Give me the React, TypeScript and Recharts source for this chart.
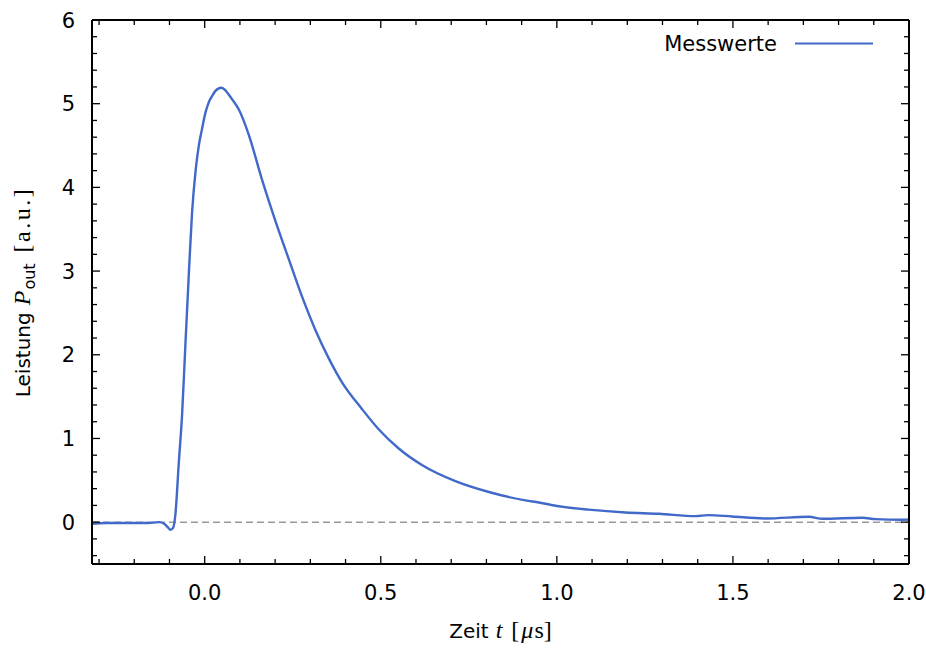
import { LineChart, Line, XAxis, YAxis, ReferenceLine, Legend } from "recharts";

// Zeit in µs und gemessene Ausgangsleistung (a.u.)
const timeUs = [
  -0.32, -0.28, -0.24, -0.2, -0.16, -0.13, -0.115, -0.105, -0.097, -0.09, -0.083,
  -0.074, -0.064, -0.055, -0.045, -0.036, -0.026, -0.017, -0.008, 0.002, 0.011,
  0.021, 0.03, 0.047, 0.059, 0.068, 0.08, 0.097, 0.125, 0.163, 0.2, 0.239, 0.276,
  0.314, 0.352, 0.39, 0.447, 0.494, 0.551, 0.618, 0.712, 0.807, 0.911, 0.949, 1.006,
  1.09, 1.195, 1.29, 1.394, 1.43, 1.497, 1.593, 1.716, 1.754, 1.868, 1.905, 1.98, 2.0,
];
const powerOut = [
  -0.02, -0.01, -0.01, -0.01, -0.01, 0, -0.02, -0.06, -0.09, -0.07, 0.1,
  0.68, 1.3, 2.1, 2.97, 3.69, 4.19, 4.49, 4.69, 4.89, 5.01,
  5.09, 5.15, 5.19, 5.16, 5.11, 5.04, 4.93, 4.63, 4.09, 3.61, 3.14, 2.7,
  2.3, 1.96, 1.67, 1.35, 1.11, 0.88, 0.68, 0.49, 0.36, 0.26, 0.235, 0.19,
  0.15, 0.116, 0.1, 0.072, 0.084, 0.068, 0.044, 0.064, 0.04, 0.053, 0.036, 0.028, 0.03,
];

const xMajorTicks = [0, 0.5, 1, 1.5, 2];
const xMinorTicks = [-0.3, -0.2, -0.1, 0.1, 0.2, 0.3, 0.4, 0.6, 0.7, 0.8, 0.9, 1.1, 1.2, 1.3, 1.4, 1.6, 1.7, 1.8, 1.9];
const yMajorTicks = [0, 1, 2, 3, 4, 5, 6];
const yMinorTicks = [-0.4, -0.2, 0.2, 0.4, 0.6, 0.8, 1.2, 1.4, 1.6, 1.8, 2.2, 2.4, 2.6, 2.8, 3.2, 3.4, 3.6, 3.8, 4.2, 4.4, 4.6, 4.8, 5.2, 5.4, 5.6, 5.8];

const data = timeUs.map((t, i) => ({ t, p: powerOut[i] }));
const xTicks = [...xMinorTicks, ...xMajorTicks].sort((a, b) => a - b);
const yTicks = [...yMinorTicks, ...yMajorTicks].sort((a, b) => a - b);

const SANS = "DejaVu Sans";
const SERIF = "Liberation Serif";
const LINE_COLOR = "#4169c9";

function BottomTick({ x, y, payload }: any) {
  const major = xMajorTicks.includes(payload.value);
  return (
    <g>
      <line x1={x} x2={x} y1={y} y2={y - (major ? 8 : 5)} stroke="#000" strokeWidth={1.3} />
      {major && (
        <text x={x} y={y + 36} textAnchor="middle" fontFamily={SANS} fontSize={21} fill="#000">
          {payload.value.toFixed(1)}
        </text>
      )}
    </g>
  );
}

function TopTick({ x, y, payload }: any) {
  const major = xMajorTicks.includes(payload.value);
  return <line x1={x} x2={x} y1={y} y2={y + (major ? 8 : 5)} stroke="#000" strokeWidth={1.3} />;
}

function LeftTick({ x, y, payload }: any) {
  const major = yMajorTicks.includes(payload.value);
  return (
    <g>
      <line x1={x} x2={x + (major ? 8 : 5)} y1={y} y2={y} stroke="#000" strokeWidth={1.3} />
      {major && (
        <text x={x - 17} y={y} dy="0.36em" textAnchor="end" fontFamily={SANS} fontSize={21} fill="#000">
          {payload.value}
        </text>
      )}
    </g>
  );
}

function RightTick({ x, y, payload }: any) {
  const major = yMajorTicks.includes(payload.value);
  return <line x1={x} x2={x - (major ? 8 : 5)} y1={y} y2={y} stroke="#000" strokeWidth={1.3} />;
}

function XTitle({ viewBox }: any) {
  const cx = viewBox.x + viewBox.width / 2;
  const by = viewBox.y + 74;
  return (
    <text x={cx} y={by} textAnchor="middle" fontSize={20} fill="#000" fontFamily={SANS}>
      <tspan>Zeit</tspan>
      <tspan dx={7} fontFamily={SERIF} fontStyle="italic" fontSize={24}>t</tspan>
      <tspan dx={9} fontFamily={SERIF} fontSize={24}>[</tspan>
      <tspan dx={2} fontFamily={SERIF} fontStyle="italic" fontSize={24}>μ</tspan>
      <tspan dx={1} fontFamily={SERIF} fontSize={24}>s]</tspan>
    </text>
  );
}

function YTitle({ viewBox }: any) {
  const bx = viewBox.x + 26;
  const cy = viewBox.y + viewBox.height / 2;
  return (
    <text
      x={bx}
      y={cy}
      transform={`rotate(-90, ${bx}, ${cy})`}
      textAnchor="middle"
      fontSize={20}
      fill="#000"
      fontFamily={SANS}
    >
      <tspan>Leistung</tspan>
      <tspan dx={7} fontFamily={SERIF} fontStyle="italic" fontSize={24}>P</tspan>
      <tspan dx={1} fontSize={16} dy={5}>out</tspan>
      <tspan dx={11} fontFamily={SERIF} fontSize={24} dy={-5} letterSpacing={2.5}>[a.u.]</tspan>
    </text>
  );
}

function LegendBox({ payload }: any) {
  const item = payload && payload[0];
  return (
    <svg width={230} height={34}>
      <text x={122} y={23} textAnchor="end" fontFamily={SANS} fontSize={21} fill="#000">
        {item ? item.value : "Messwerte"}
      </text>
      <line x1={140} x2={218} y1={15.5} y2={15.5} stroke={LINE_COLOR} strokeWidth={2} />
    </svg>
  );
}

export default function App() {
  return (
    <div style={{ position: "absolute", left: 0, top: 0, background: "#fff" }}>
      <LineChart width={926} height={650} data={data} margin={{ top: 0, right: 0, left: 4, bottom: 30 }}>
        <XAxis
          xAxisId="bottom"
          dataKey="t"
          type="number"
          domain={[-0.32, 2.0]}
          allowDataOverflow
          ticks={xTicks}
          interval={0}
          tickSize={0}
          tickMargin={0}
          tickLine={false}
          tick={<BottomTick />}
          axisLine={{ stroke: "#000", strokeWidth: 2 }}
          height={56}
          label={<XTitle />}
        />
        <XAxis
          xAxisId="top"
          orientation="top"
          dataKey="t"
          type="number"
          domain={[-0.32, 2.0]}
          allowDataOverflow
          ticks={xTicks}
          interval={0}
          tickSize={0}
          tickMargin={0}
          tickLine={false}
          tick={<TopTick />}
          axisLine={{ stroke: "#000", strokeWidth: 2 }}
          height={20}
        />
        <YAxis
          yAxisId="left"
          type="number"
          domain={[-0.5, 6]}
          allowDataOverflow
          ticks={yTicks}
          interval={0}
          tickSize={0}
          tickMargin={0}
          tickLine={false}
          tick={<LeftTick />}
          axisLine={{ stroke: "#000", strokeWidth: 2 }}
          width={88}
          label={<YTitle />}
        />
        <YAxis
          yAxisId="right"
          orientation="right"
          type="number"
          domain={[-0.5, 6]}
          allowDataOverflow
          ticks={yTicks}
          interval={0}
          tickSize={0}
          tickMargin={0}
          tickLine={false}
          tick={<RightTick />}
          axisLine={{ stroke: "#000", strokeWidth: 2 }}
          width={17}
        />
        <ReferenceLine
          xAxisId="bottom"
          yAxisId="left"
          y={0}
          stroke="#999"
          strokeWidth={1.5}
          strokeDasharray="7 4"
        />
        <Line
          xAxisId="bottom"
          yAxisId="left"
          type="monotone"
          dataKey="p"
          name="Messwerte"
          stroke={LINE_COLOR}
          strokeWidth={2.4}
          dot={false}
          isAnimationActive={false}
        />
        <Legend
          layout="vertical"
          align="center"
          verticalAlign="middle"
          content={<LegendBox />}
          wrapperStyle={{ top: 28, left: 655, width: 230, height: 34 }}
        />
      </LineChart>
    </div>
  );
}
